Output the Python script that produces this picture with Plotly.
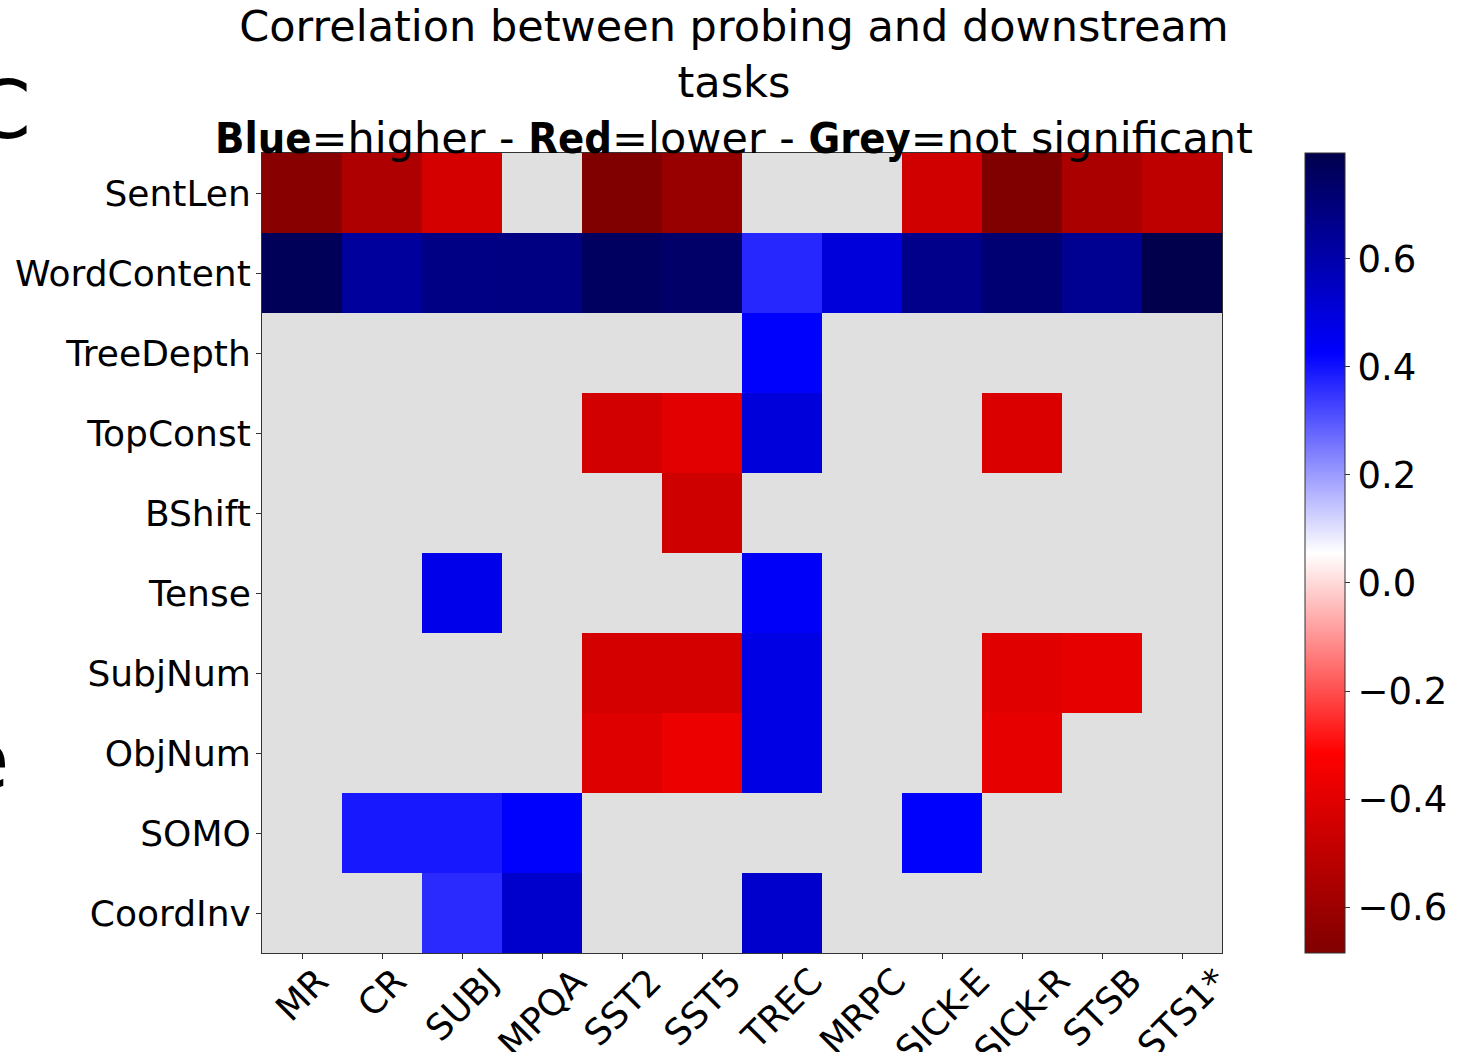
import plotly.graph_objects as go

tasks = ["MR", "CR", "SUBJ", "MPQA", "SST2", "SST5", "TREC", "MRPC",
         "SICK-E", "SICK-R", "STSB", "STS1*"]
probes = ["SentLen", "WordContent", "TreeDepth", "TopConst", "BShift",
          "Tense", "SubjNum", "ObjNum", "SOMO", "CoordInv"]

N = None
sentlen     = [-0.66, -0.55, -0.44, N, -0.685, -0.615, N, N, -0.45, -0.685, -0.56, -0.505]
wordcontent = [0.77, 0.63, 0.68, 0.685, 0.755, 0.74, 0.37, 0.50, 0.67, 0.72, 0.655, 0.796]
treedepth   = [N, N, N, N, N, N, 0.43, N, N, N, N, N]
topconst    = [N, N, N, N, -0.447, -0.395, 0.50, N, N, -0.424, N, N]
bshift      = [N, N, N, N, N, -0.458, N, N, N, N, N, N]
tense       = [N, N, 0.47, N, N, N, 0.44, N, N, N, N, N]
subjnum     = [N, N, N, N, -0.441, -0.441, 0.482, N, N, -0.406, -0.389, N]
objnum      = [N, N, N, N, -0.412, -0.371, 0.482, N, N, -0.389, N, N]
somo        = [N, 0.391, 0.391, 0.43, N, N, N, N, 0.43, N, N, N]
coordinv    = [N, N, 0.365, 0.531, N, N, 0.531, N, N, N, N, N]

z = [sentlen, wordcontent, treedepth, topconst, bshift, tense,
     subjnum, objnum, somo, coordinv]
vals = [v for row in z for v in row if v is not None]
zmin, zmax = min(vals), max(vals)

colorbar_ticks = [-0.6, -0.4, -0.2, 0.0, 0.2, 0.4, 0.6]

seismic_r = [
    [0.0, "rgb(128,0,0)"],
    [0.25, "rgb(255,0,0)"],
    [0.5, "rgb(255,255,255)"],
    [0.75, "rgb(0,0,255)"],
    [1.0, "rgb(0,0,77)"],
]

FONT = "DejaVu Sans"
W, H = 1459, 1052
L, R, T, B = 262, 237, 153, 99
PW, PH = W - L - R, H - T - B
AX = "#333"

fig = go.Figure(go.Heatmap(
    z=z, x=tasks, y=probes, zmin=zmin, zmax=zmax,
    colorscale=seismic_r, hoverongaps=False,
    colorbar=dict(
        x=(1305 - L) / PW, xanchor="left", xref="paper",
        y=0.5, yanchor="middle", len=1.0, lenmode="fraction",
        thickness=40, thicknessmode="pixels", xpad=0, ypad=0,
        outlinewidth=1, outlinecolor=AX,
        tickvals=colorbar_ticks, tickformat=".1f",
        ticks="outside", ticklen=5, tickwidth=1, tickcolor=AX,
        tickfont=dict(family=FONT, size=37, color="black"),
    ),
))

fig.update_layout(
    width=W, height=H,
    margin=dict(l=L, r=R, t=T, b=B, pad=0, autoexpand=False),
    paper_bgcolor="white", plot_bgcolor="#e0e0e0",
    font=dict(family=FONT, color="black"),
    showlegend=False,
)
fig.update_xaxes(
    range=[-0.5, len(tasks) - 0.5], showticklabels=False,
    ticks="outside", ticklen=5, tickcolor=AX, automargin=False,
    showline=True, mirror=True, linecolor=AX, linewidth=1,
    showgrid=False, zeroline=False,
)
fig.update_yaxes(
    range=[len(probes) - 0.5, -0.5], tickfont=dict(family=FONT, size=36, color="black"),
    ticks="outside", ticklen=5, tickcolor=AX, automargin=False,
    ticklabelstandoff=-2,
    showline=True, mirror=True, linecolor=AX, linewidth=1,
    showgrid=False, zeroline=False,
)

# x tick labels: rotated 45 degrees, centred under each tick
for t in tasks:
    fig.add_annotation(
        text=t, xref="x", yref="paper", x=t, y=0, yshift=-6,
        xanchor="center", yanchor="top", textangle=-45, showarrow=False,
        borderpad=0, font=dict(family=FONT, size=36, color="black"),
    )

BOLD = "<span style=\"font-family:'DejaVu Sans Condensed','Liberation Sans'\"><b>{}</b></span>"
title = ("Correlation between probing and downstream<br>tasks<br>"
         + BOLD.format("Blue") + "=higher - " + BOLD.format("Red")
         + "=lower - " + BOLD.format("Grey") + "=not significant")
fig.add_annotation(
    text=title, xref="paper", yref="paper", x=(734 - L) / PW, y=1,
    xanchor="center", yanchor="bottom", yshift=-12, showarrow=False,
    align="center", font=dict(family=FONT, size=43, color="black"),
)
fig.add_annotation(
    text="C", xref="paper", yref="paper", x=(33 - L) / PW, y=1 + (T - 110) / PH,
    xanchor="right", yanchor="middle", showarrow=False,
    font=dict(family=FONT, size=80, color="black"),
)
fig.add_annotation(
    text="e", xref="paper", yref="paper", x=(11 - L) / PW, y=1 - (760 - T) / PH,
    xanchor="right", yanchor="middle", showarrow=False,
    font=dict(family=FONT, size=80, color="black"),
)

fig.write_html("out.html", config={"displayModeBar": False},
               post_script="document.body.style.margin='0';")
